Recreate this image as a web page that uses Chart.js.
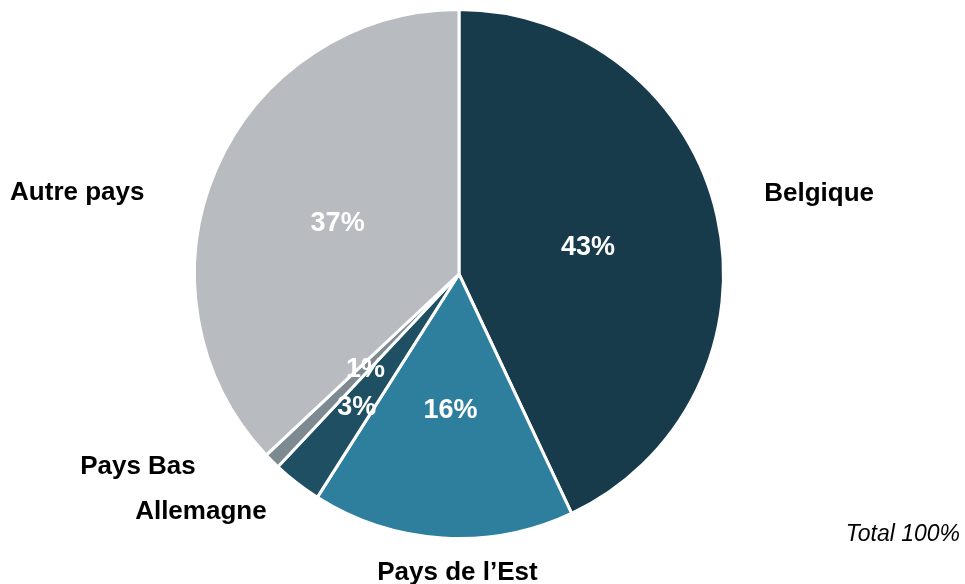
<!DOCTYPE html>
<html>
<head>
<meta charset="utf-8">
<script src="https://cdn.jsdelivr.net/npm/chart.js@4.4.1/dist/chart.umd.min.js"></script>
<style>
  html, body { margin: 0; padding: 0; background: #ffffff; }
  #wrap { position: relative; width: 965px; height: 584px; }
</style>
</head>
<body>
<div id="wrap"><canvas id="pieChart" width="965" height="584"></canvas></div>
<script>
const countries = ['Belgique', "Pays de l\u2019Est", 'Allemagne', 'Pays Bas', 'Autre pays'];
const shares = [43, 16, 3, 1, 37];
const sliceColors = ['#173b4b', '#2e7f9d', '#1e4f62', '#7d8a92', '#b8bcc0'];

// label placement tweaks (style only)
const valueRadius = [0.5, 0.51, 0.63, 0.5, 0.5];
const nameOffsets = [[102, -22], [15, 35], [-96, 29], [-134, 6], [-139, 24]];

const pieLabels = {
    id: 'pieLabels',
    afterDatasetsDraw(chart) {
        const ctx = chart.ctx;
        const meta = chart.getDatasetMeta(0);
        ctx.save();
        ctx.textAlign = 'center';
        ctx.textBaseline = 'middle';
        meta.data.forEach((arc, i) => {
            const p = arc.getProps(['x', 'y', 'startAngle', 'endAngle', 'outerRadius'], true);
            const mid = (p.startAngle + p.endAngle) / 2;
            const rv = p.outerRadius * valueRadius[i];
            ctx.fillStyle = '#ffffff';
            ctx.font = 'bold 27px "Liberation Sans", Arial, sans-serif';
            ctx.fillText(shares[i] + '%', p.x + Math.cos(mid) * rv, p.y + Math.sin(mid) * rv + 2);

            const ax = p.x + Math.cos(mid) * p.outerRadius;
            const ay = p.y + Math.sin(mid) * p.outerRadius;
            ctx.fillStyle = '#000000';
            ctx.font = 'bold 26px "Liberation Sans", Arial, sans-serif';
            ctx.fillText(countries[i], ax + nameOffsets[i][0], ay + nameOffsets[i][1]);
        });
        ctx.font = 'italic 23px "Liberation Sans", Arial, sans-serif';
        ctx.textAlign = 'right';
        ctx.fillText('Total 100%', 960, 535);
        ctx.restore();
    }
};

new Chart(document.getElementById('pieChart').getContext('2d'), {
    type: 'pie',
    data: {
        labels: countries,
        datasets: [{
            data: shares,
            backgroundColor: sliceColors,
            borderColor: '#ffffff',
            borderWidth: 3
        }]
    },
    options: {
        responsive: false,
        animation: false,
        layout: { padding: { top: 8, bottom: 44, left: 0, right: 47 } },
        plugins: {
            legend: { display: false },
            tooltip: { enabled: false }
        }
    },
    plugins: [pieLabels]
});
</script>
</body>
</html>
